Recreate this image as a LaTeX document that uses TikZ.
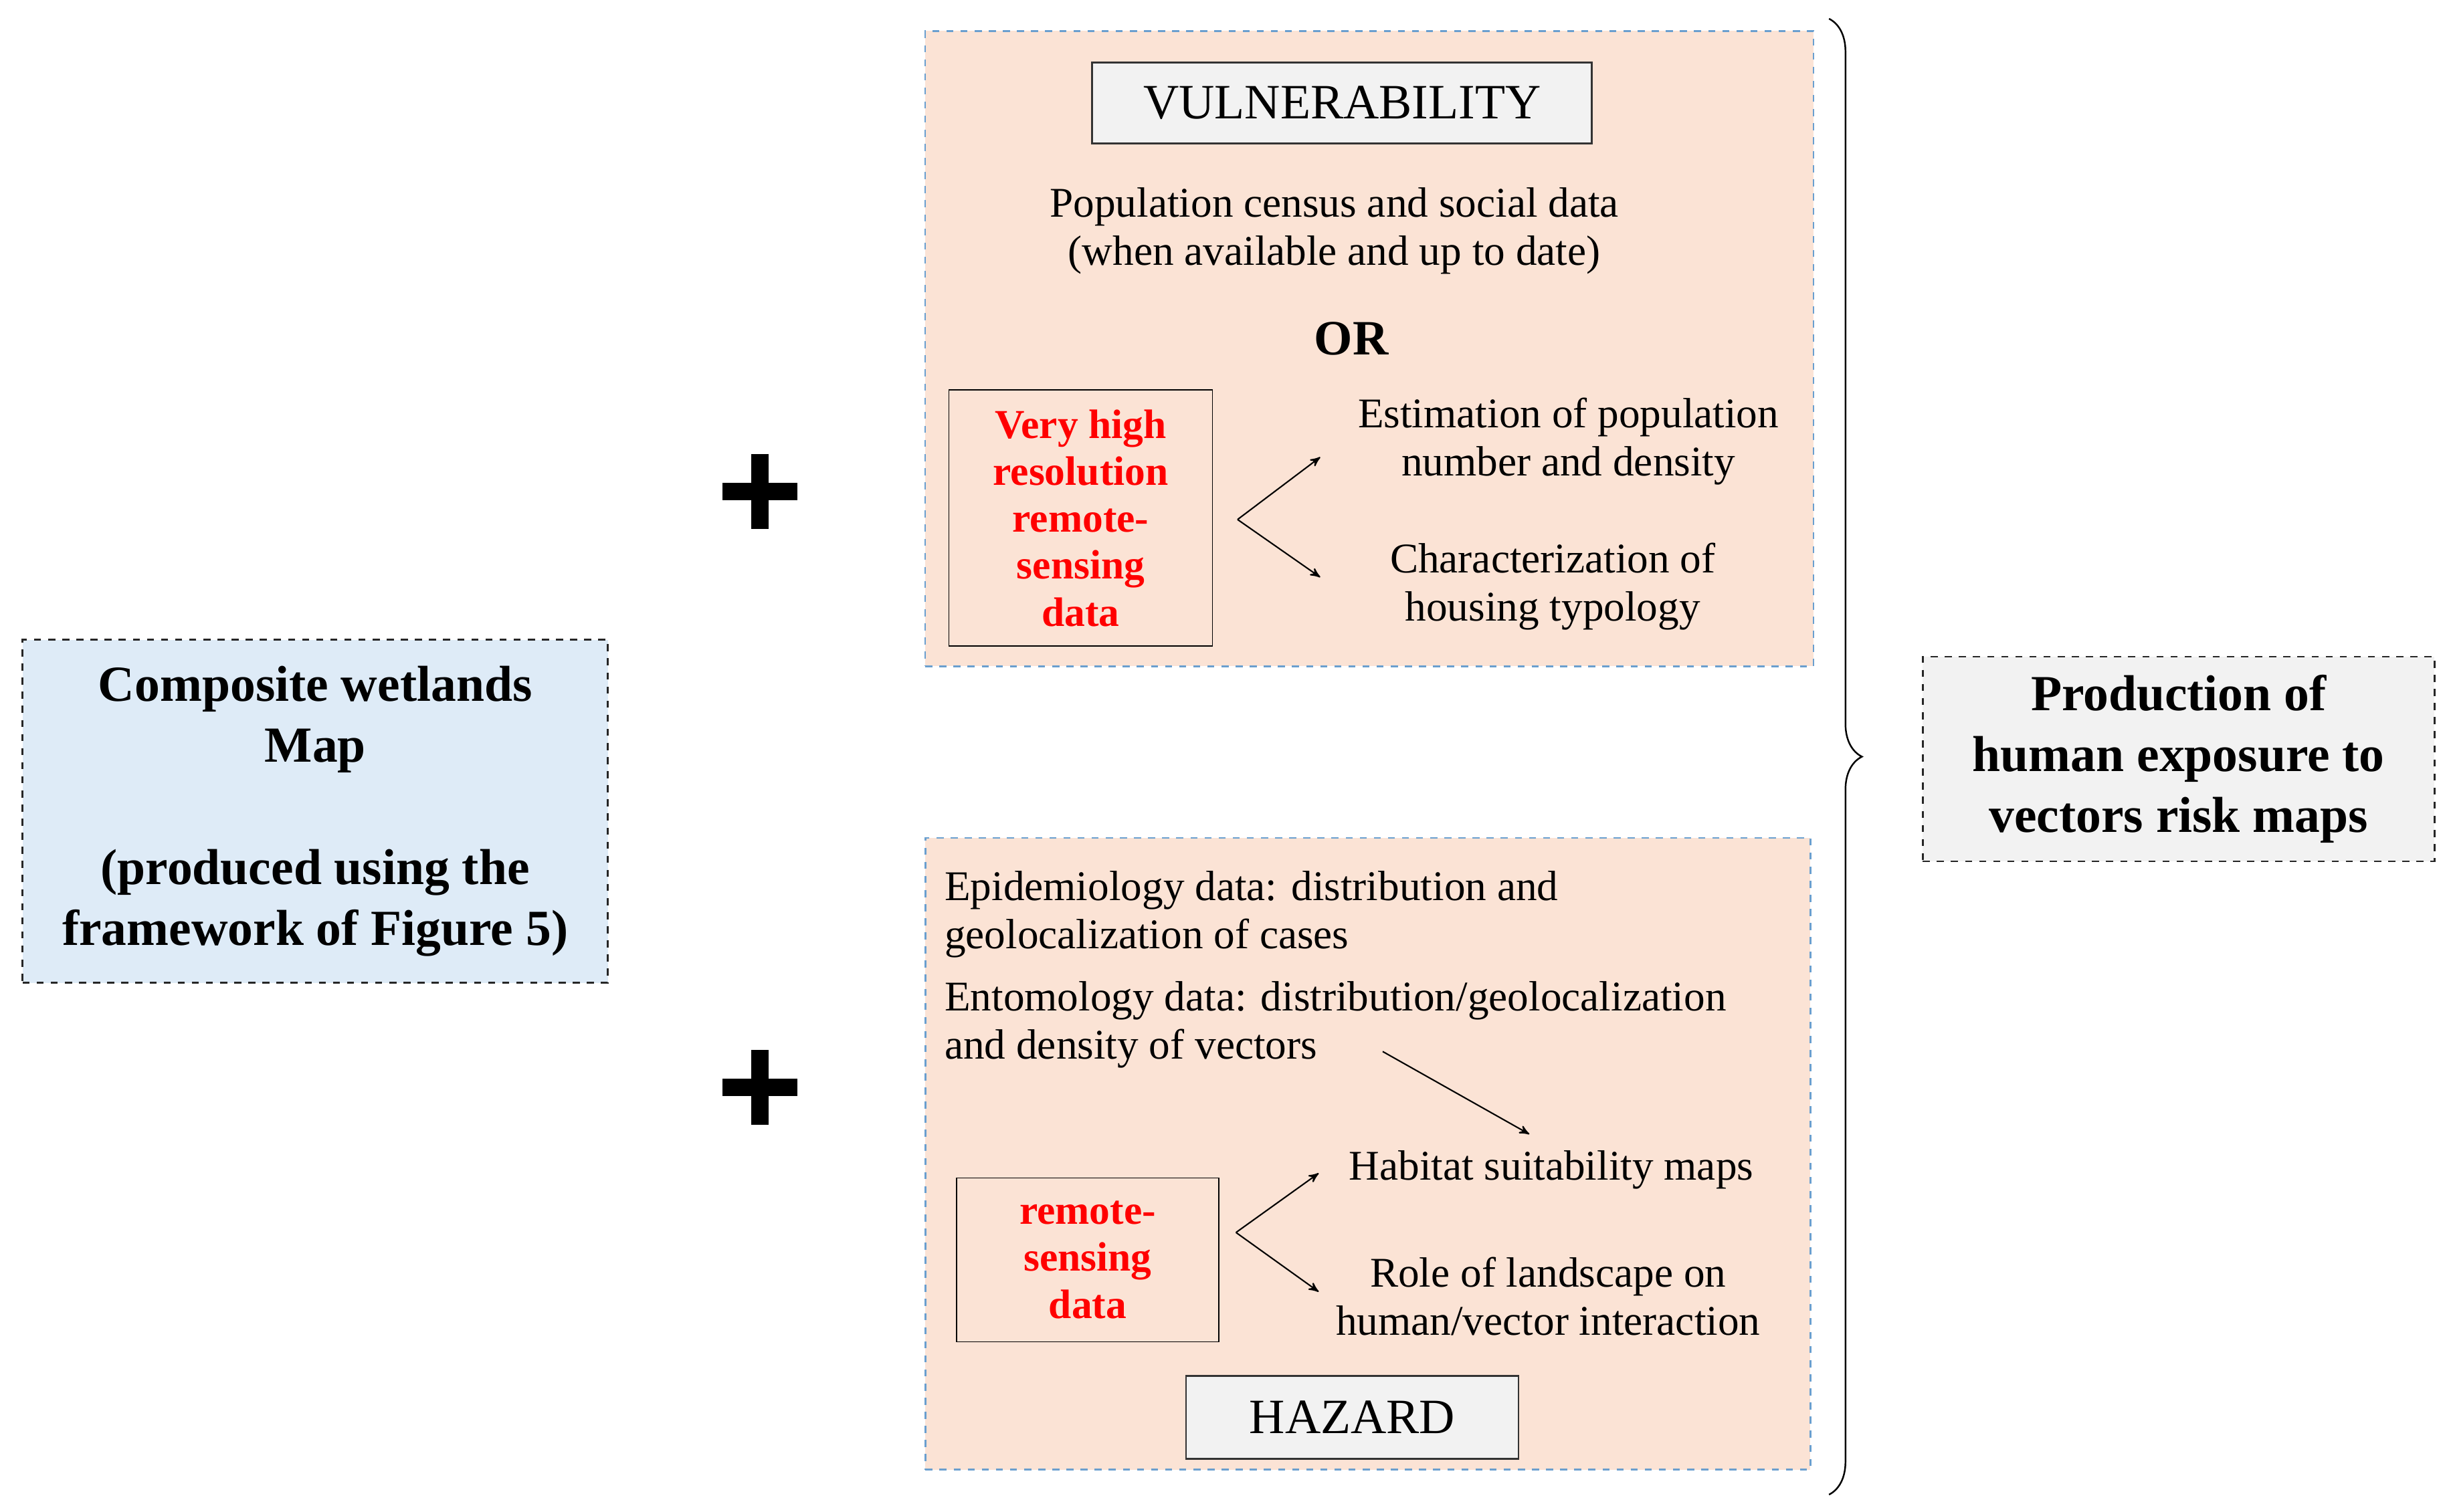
\documentclass[tikz,border=0pt]{standalone}
\usepackage{fontspec}
\setmainfont{Liberation Serif}
\usetikzlibrary{arrows,shapes,decorations.pathreplacing}
\definecolor{peach}{HTML}{FBE3D5}
\definecolor{paleblue}{HTML}{DEEBF7}
\definecolor{palegray}{HTML}{F2F2F2}
\definecolor{dashblue}{HTML}{6A9FCF}
\begin{document}
\begin{tikzpicture}[x=0.02333cm,y=-0.02333cm,>=stealth',font=\fontsize{18}{20.5}\selectfont]

  \tikzstyle{panel}=[draw=dashblue,dashed,fill=peach,line width=0.7pt]
  \tikzstyle{title}=[draw=black!80,fill=palegray,line width=0.8pt,
    font=\fontsize{21}{24}\selectfont]
  \tikzstyle{rs}=[draw=black,fill=peach,align=center,text=red,
    font=\fontsize{17.5}{20}\selectfont\bfseries]
  \tikzstyle{txt}=[align=center]
  \tikzstyle{sidebox}=[draw=black!85,dashed,line width=0.8pt,align=center,
    font=\fontsize{21.5}{26}\selectfont\bfseries]
  \tikzstyle{link}=[->,line width=0.6pt]

  \useasboundingbox (0,0) rectangle (1568,969);

  %% left input
  \node (map) at (202,520) [sidebox,fill=paleblue,minimum width=8.75cm,minimum height=5.13cm]
        {Composite wetlands\\Map\\[26pt](produced using the\\framework of Figure 5)};

  %% vulnerability panel
  \node (vp) at (877.5,223.5) [panel,minimum width=13.28cm,minimum height=9.50cm] {};
  \node (vul) at (860,66) [title,minimum width=7.47cm,minimum height=1.21cm] {VULNERABILITY};
  \node (pop) at (855,148) [txt] {Population census and social data\\(when available and up to date)};
  \node (or) at (866,217) [font=\fontsize{21}{24}\selectfont\bfseries] {OR};
  \node (vhr) at (692.5,332) [rs,minimum width=3.94cm,minimum height=3.83cm]
        {Very high\\resolution\\remote-\\sensing\\data};
  \coordinate (vs) at (793,333);
  \coordinate (ve1) at (846,293);
  \coordinate (ve2) at (846,370);
  \node (est) at (1005,283) [txt] {Estimation of population\\number and density};
  \node (hou) at (995,376) [txt] {Characterization of\\housing typology};

  %% hazard panel
  \node (hp) at (876.5,739.5) [panel,minimum width=13.23cm,minimum height=9.45cm] {};
  \node (epi) at (600,586) [anchor=west,align=left]
        {Epidemiology data: distribution and\\geolocalization of cases};
  \node (ent) at (600,657) [anchor=west,align=left]
        {Entomology data: distribution/geolocalization\\and density of vectors};
  \coordinate (es) at (886,674);
  \coordinate (ee) at (980,727);
  \node (rsd) at (697,807.5) [rs,minimum width=3.92cm,minimum height=2.45cm]
        {remote-\\sensing\\data};
  \coordinate (hs) at (792,790);
  \coordinate (he1) at (845,752);
  \coordinate (he2) at (845,828);
  \node (hab) at (994,750) [txt] {Habitat suitability maps};
  \node (rol) at (992,831) [txt] {Role of landscape on\\human/vector interaction};
  \node (haz) at (866.5,908.5) [title,minimum width=4.97cm,minimum height=1.24cm] {HAZARD};

  \path (vs) edge [link] (ve1)
             edge [link] (ve2)
        (es) edge [link] (ee)
        (hs) edge [link] (he1)
             edge [link] (he2);

  %% plus signs
  \foreach \py in {315,697}
    \draw [line width=2.6mm] (463,\py) -- (511,\py) (487,\py-24) -- (487,\py+24);

  %% brace and result
  \coordinate (bt) at (1172,12);
  \coordinate (bb) at (1172,958);
  \draw [decorate,decoration={brace,amplitude=14pt},line width=0.7pt] (bt) -- (bb);
  \node (res) at (1396,486.5) [sidebox,fill=palegray,minimum width=7.65cm,minimum height=3.06cm]
        {Production of\\human exposure to\\vectors risk maps};
\end{tikzpicture}
\end{document}
